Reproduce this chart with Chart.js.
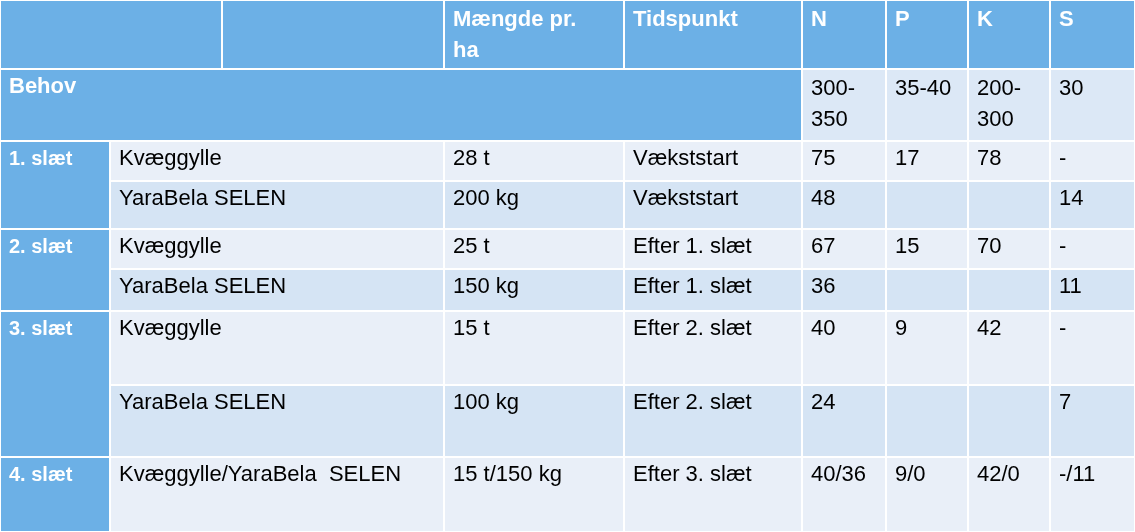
<!DOCTYPE html>
<html>
<head>
<meta charset="utf-8">
<script src="https://cdn.jsdelivr.net/npm/chart.js@4"></script>
<style>
  html, body { margin: 0; padding: 0; background: #fff; }
  #wrap { width: 1135px; height: 532px; }
</style>
</head>
<body>
<div id="wrap"><canvas id="table"></canvas></div>
<script>
// Table content
const headers = ["", "", "Mængde pr.\nha", "Tidspunkt", "N", "P", "K", "S"];
const needLabel = "Behov";
const needValues = ["300-\n350", "35-40", "200-\n300", "30"];
const groups = ["1. slæt", "2. slæt", "3. slæt", "4. slæt"];
const groupRows = [2, 2, 2, 1];
const products = ["Kvæggylle", "YaraBela SELEN", "Kvæggylle", "YaraBela SELEN", "Kvæggylle", "YaraBela SELEN", "Kvæggylle/YaraBela  SELEN"];
const amounts = ["28 t", "200 kg", "25 t", "150 kg", "15 t", "100 kg", "15 t/150 kg"];
const timings = ["Vækststart", "Vækststart", "Efter 1. slæt", "Efter 1. slæt", "Efter 2. slæt", "Efter 2. slæt", "Efter 3. slæt"];
const nValues = ["75", "48", "67", "36", "40", "24", "40/36"];
const pValues = ["17", "", "15", "", "9", "", "9/0"];
const kValues = ["78", "", "70", "", "42", "", "42/0"];
const sValues = ["-", "14", "-", "11", "-", "7", "-/11"];

// Grid layout (in scale units)
const colX = [0, 110, 222, 444, 624, 802, 886, 968, 1050, 1135];
const rowY = [0, 69, 141, 181, 229, 269, 311, 385, 457, 532];

const BLUE = "#6cb0e6";
const LIGHT_A = "#e9eff8";
const LIGHT_B = "#d5e4f4";
const LIGHT_NEED = "#dce8f6";

const tablePlugin = {
  id: "tableCells",
  afterDraw(chart) {
    const { ctx, scales: { x, y } } = chart;
    const cell = (x0, x1, y0, y1, fill, text, font, color, top = 9) => {
      const px0 = x.getPixelForValue(x0), px1 = x.getPixelForValue(x1);
      const py0 = y.getPixelForValue(y0), py1 = y.getPixelForValue(y1);
      ctx.fillStyle = fill;
      ctx.fillRect(px0 + 1, py0 + 1, px1 - px0 - 2, py1 - py0 - 2);
      if (!text) return;
      ctx.fillStyle = color;
      ctx.font = font;
      ctx.textBaseline = "top";
      text.split("\n").forEach((line, i) => ctx.fillText(line, px0 + 9, py0 + top + i * 31));
    };
    ctx.save();
    ctx.fillStyle = "#fff";
    ctx.fillRect(0, 0, chart.width, chart.height);
    const headFont = "bold 22px 'Liberation Sans', Arial, sans-serif";
    const bodyFont = "22px 'Liberation Sans', Arial, sans-serif";
    const groupFont = "bold 20px 'Liberation Sans', Arial, sans-serif";

    // header row
    cell(colX[0], colX[2], rowY[0], rowY[1], BLUE, headers[0], headFont, "#fff");
    cell(colX[2], colX[3], rowY[0], rowY[1], BLUE, headers[1], headFont, "#fff");
    for (let c = 2; c < headers.length; c++) {
      cell(colX[c + 1], colX[c + 2], rowY[0], rowY[1], BLUE, headers[c], headFont, "#fff");
    }
    // need row
    cell(colX[0], colX[5], rowY[1], rowY[2], BLUE, needLabel, headFont, "#fff", 7);
    needValues.forEach((v, i) => cell(colX[5 + i], colX[6 + i], rowY[1], rowY[2], LIGHT_NEED, v, bodyFont, "#000"));

    // body rows
    const cols = [products, amounts, timings, nValues, pValues, kValues, sValues];
    const spans = [[1, 3], [3, 4], [4, 5], [5, 6], [6, 7], [7, 8], [8, 9]];
    let r = 0;
    groups.forEach((g, gi) => {
      const n = groupRows[gi];
      cell(colX[0], colX[1], rowY[2 + r], rowY[2 + r + n], BLUE, g, groupFont, "#fff", 8);
      for (let k = 0; k < n; k++) {
        const row = r + k;
        const fill = k % 2 === 0 ? LIGHT_A : LIGHT_B;
        cols.forEach((arr, ci) => {
          cell(colX[spans[ci][0]], colX[spans[ci][1]], rowY[2 + row], rowY[3 + row], fill, arr[row], bodyFont, "#000", 7);
        });
      }
      r += n;
    });
    ctx.restore();
  }
};

new Chart(document.getElementById("table"), {
  type: "scatter",
  data: { datasets: [{ data: [] }] },
  options: {
    responsive: true,
    maintainAspectRatio: false,
    animation: false,
    layout: { padding: 0 },
    plugins: { legend: { display: false }, tooltip: { enabled: false } },
    scales: {
      x: { type: "linear", min: 0, max: 1135, display: false },
      y: { type: "linear", min: 0, max: 532, reverse: true, display: false }
    }
  },
  plugins: [tablePlugin]
});
</script>
</body>
</html>
